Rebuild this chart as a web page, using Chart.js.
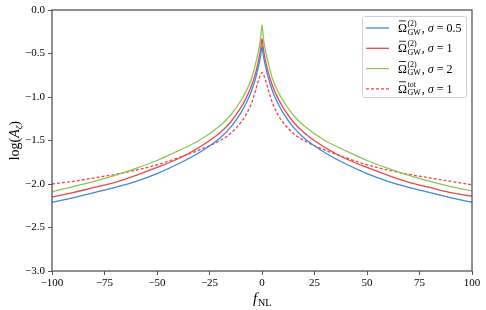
<!DOCTYPE html>
<html>
<head>
<meta charset="utf-8">
<script src="https://cdn.jsdelivr.net/npm/chart.js@4/dist/chart.umd.min.js"></script>
<style>
  html, body { margin: 0; padding: 0; background: #fff; }
  #wrap { width: 486px; height: 310px; }
</style>
</head>
<body>
<div id="wrap"><canvas id="myChart" width="486" height="310"></canvas></div>
<script>
const fNL = [-100, -90, -80, -70, -60, -50, -40, -30, -20, -15, -10, -7.5, -5, -3, -2, -1, -0.5, 0,
             0.5, 1, 2, 3, 5, 7.5, 10, 15, 20, 30, 40, 50, 60, 70, 80, 90, 100];

const sigma05 = [-2.21, -2.16, -2.10, -2.04, -1.97, -1.88, -1.77, -1.64, -1.47, -1.35, -1.18, -1.07, -0.93, -0.78, -0.68, -0.57, -0.50, -0.42,
                 -0.50, -0.57, -0.68, -0.78, -0.93, -1.07, -1.18, -1.35, -1.47, -1.64, -1.77, -1.88, -1.97, -2.04, -2.10, -2.16, -2.21];
const sigma1 = [-2.15, -2.10, -2.04, -1.98, -1.90, -1.81, -1.71, -1.58, -1.41, -1.29, -1.12, -1.01, -0.87, -0.72, -0.62, -0.50, -0.42, -0.33,
                -0.42, -0.50, -0.62, -0.72, -0.87, -1.01, -1.12, -1.29, -1.41, -1.58, -1.71, -1.81, -1.90, -1.98, -2.04, -2.10, -2.14];
const sigma2 = [-2.09, -2.03, -1.97, -1.90, -1.82, -1.73, -1.62, -1.50, -1.33, -1.21, -1.04, -0.93, -0.79, -0.61, -0.51, -0.38, -0.28, -0.17,
                -0.28, -0.38, -0.51, -0.61, -0.79, -0.93, -1.04, -1.21, -1.33, -1.50, -1.62, -1.73, -1.82, -1.90, -1.97, -2.03, -2.08];
const totSigma1 = [-2.00, -1.97, -1.93, -1.89, -1.84, -1.78, -1.70, -1.61, -1.50, -1.42, -1.29, -1.20, -1.07, -0.92, -0.83, -0.76, -0.73, -0.72,
                   -0.73, -0.76, -0.83, -0.92, -1.07, -1.20, -1.29, -1.42, -1.50, -1.61, -1.70, -1.78, -1.84, -1.89, -1.93, -1.97, -2.01];

const yTicks = [0, -0.5, -1, -1.5, -2, -2.5, -3];
const xTicks = [-100, -75, -50, -25, 0, 25, 50, 75, 100];

const BLUE = '#3d88dd';
const RED = '#e94848';
const GREEN = '#8cc653';
const SERIF = '"Liberation Serif", "DejaVu Serif", serif';

function toPoints(ys) {
    return fNL.map((x, i) => ({ x: x, y: ys[i] }));
}
function fmt(v, digits) {
    return v.toFixed(digits).replace('-', '\u2212');
}

const legendItems = [
    { sup: '(2)', tail: '0.5', color: BLUE, dash: [] },
    { sup: '(2)', tail: '1', color: RED, dash: [] },
    { sup: '(2)', tail: '2', color: GREEN, dash: [] },
    { sup: 'tot', tail: '1', color: RED, dash: [3, 2] }
];

// frame, axis titles and legend with sub/superscripts
const extras = {
    id: 'extras',
    afterDraw(chart) {
        const ctx = chart.ctx;
        const a = chart.chartArea;
        ctx.save();
        ctx.strokeStyle = '#555';
        ctx.lineWidth = 1.3;
        ctx.strokeRect(a.left, a.top, a.right - a.left, a.bottom - a.top);

        // x title
        ctx.fillStyle = '#000';
        ctx.textBaseline = 'alphabetic';
        ctx.font = 'italic 15px ' + SERIF;
        const cx = (a.left + a.right) / 2;
        ctx.textAlign = 'left';
        ctx.fillText('f', cx - 9, 303);
        ctx.font = '10px ' + SERIF;
        ctx.fillText('NL', cx - 4, 306);

        // y title
        ctx.save();
        ctx.translate(19, (a.top + a.bottom) / 2);
        ctx.rotate(-Math.PI / 2);
        ctx.font = '14px ' + SERIF;
        ctx.textAlign = 'left';
        const t1 = 'log(';
        const w1 = ctx.measureText(t1).width;
        ctx.font = 'italic 14px ' + SERIF;
        const w2 = ctx.measureText('A').width;
        ctx.font = 'italic 9px ' + SERIF;
        const w3 = ctx.measureText('\u03B6').width;
        const total = w1 + w2 + w3 + 5;
        let x = -total / 2;
        ctx.font = '14px ' + SERIF;
        ctx.fillText(t1, x, 0); x += w1;
        ctx.font = 'italic 14px ' + SERIF;
        ctx.fillText('A', x, 0); x += w2;
        ctx.font = 'italic 9px ' + SERIF;
        ctx.fillText('\u03B6', x, 3); x += w3;
        ctx.font = '14px ' + SERIF;
        ctx.fillText(')', x, 0);
        ctx.restore();

        // legend
        const bx = 362, by = 16, bw = 104, bh = 81;
        ctx.fillStyle = 'rgba(255,255,255,0.85)';
        ctx.strokeStyle = '#d0d0d0';
        ctx.lineWidth = 1;
        ctx.beginPath();
        ctx.roundRect(bx + 0.5, by + 0.5, bw, bh, 2);
        ctx.fill();
        ctx.stroke();
        legendItems.forEach((it, i) => {
            const yy = 28 + i * 20.3;
            ctx.strokeStyle = it.color;
            ctx.lineWidth = 1.3;
            ctx.setLineDash(it.dash);
            ctx.beginPath();
            ctx.moveTo(366, yy);
            ctx.lineTo(389, yy);
            ctx.stroke();
            ctx.setLineDash([]);
            ctx.fillStyle = '#000';
            let tx = 398;
            const base = yy + 4;
            ctx.font = '12px ' + SERIF;
            ctx.fillText('\u03A9', tx, base);
            const ow = ctx.measureText('\u03A9').width;
            ctx.fillRect(tx + 1, base - 11.5, ow - 2, 0.8);
            tx += ow;
            ctx.font = '8px ' + SERIF;
            ctx.fillText(it.sup, tx + 0.5, base - 6);
            const sw = ctx.measureText(it.sup).width;
            ctx.fillText('GW', tx + 0.5, base + 2.5);
            const gw = ctx.measureText('GW').width;
            tx += Math.max(sw, gw) + 1.5;
            ctx.font = '12px ' + SERIF;
            ctx.fillText(',', tx, base);
            tx += ctx.measureText(', ').width;
            ctx.font = 'italic 12px ' + SERIF;
            ctx.fillText('\u03C3', tx, base);
            tx += ctx.measureText('\u03C3').width;
            ctx.font = '12px ' + SERIF;
            ctx.fillText(' = ' + it.tail, tx, base);
        });
        ctx.restore();
    }
};

new Chart(document.getElementById('myChart').getContext('2d'), {
    type: 'line',
    data: {
        datasets: [
            { label: '\u03A9\u0304(2) GW, \u03C3 = 0.5', data: toPoints(sigma05), borderColor: BLUE },
            { label: '\u03A9\u0304(2) GW, \u03C3 = 1', data: toPoints(sigma1), borderColor: RED },
            { label: '\u03A9\u0304(2) GW, \u03C3 = 2', data: toPoints(sigma2), borderColor: GREEN },
            { label: '\u03A9\u0304tot GW, \u03C3 = 1', data: toPoints(totSigma1), borderColor: RED, borderDash: [3, 2] }
        ].map(d => Object.assign(d, {
            borderWidth: 1.3,
            pointRadius: 0,
            fill: false,
            cubicInterpolationMode: 'monotone'
        }))
    },
    options: {
        responsive: false,
        animation: false,
        layout: { padding: { top: 10, right: 14, left: 0, bottom: 0 } },
        plugins: {
            legend: { display: false },
            tooltip: { enabled: false }
        },
        scales: {
            x: {
                type: 'linear',
                min: -100,
                max: 100,
                afterBuildTicks: s => { s.ticks = xTicks.map(v => ({ value: v })); },
                afterFit: s => { s.height = 39; },
                grid: { drawOnChartArea: false, tickLength: 4, color: '#555', tickWidth: 1 },
                border: { display: false },
                ticks: {
                    maxRotation: 0,
                    padding: 2,
                    color: '#000',
                    font: { family: SERIF, size: 11 },
                    callback: v => fmt(v, 0)
                }
            },
            y: {
                min: -3,
                max: 0,
                afterBuildTicks: s => { s.ticks = yTicks.map(v => ({ value: v })); },
                afterFit: s => { s.width = 52; },
                grid: { drawOnChartArea: false, tickLength: 4, color: '#555', tickWidth: 1 },
                border: { display: false },
                ticks: {
                    padding: 3,
                    color: '#000',
                    font: { family: SERIF, size: 11 },
                    callback: v => fmt(v, 1)
                }
            }
        }
    },
    plugins: [extras]
});
</script>
</body>
</html>
